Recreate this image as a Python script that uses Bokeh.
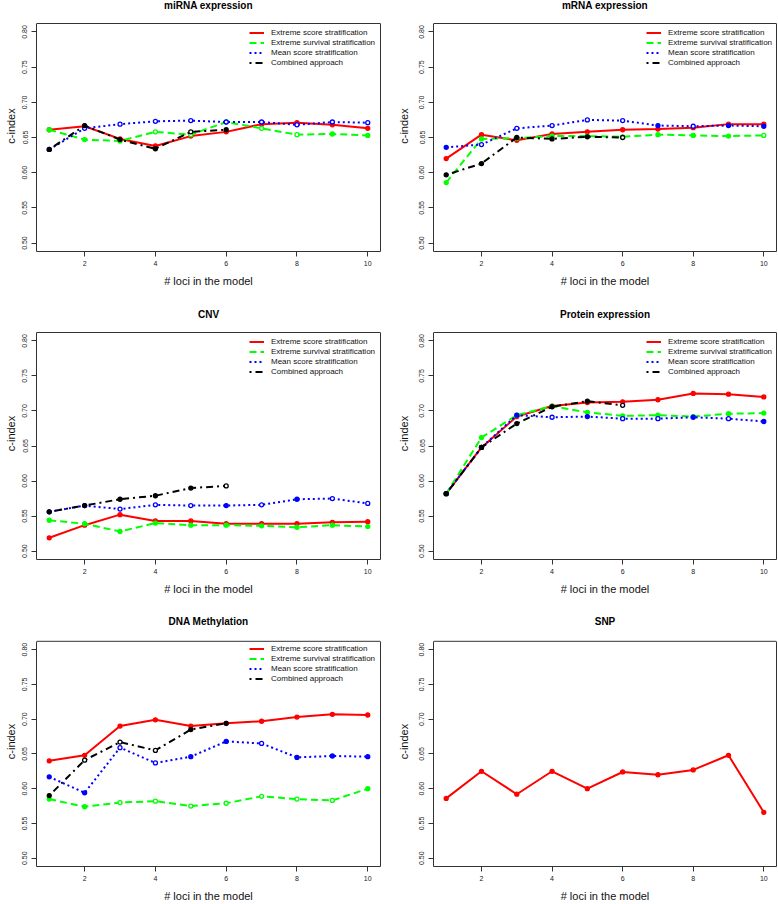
from bokeh.plotting import figure
from bokeh.layouts import gridplot
from bokeh.models import (Range1d, FixedTicker, PrintfTickFormatter, Legend, LegendItem,
                          Label, LinearAxis, Span)
from bokeh.embed import file_html
from bokeh.resources import INLINE

# ---------------- data ----------------
LOCI = [1, 2, 3, 4, 5, 6, 7, 8, 9, 10]
COMBINED_LOCI = [1, 2, 3, 4, 5, 6]
SERIES_NAMES = ["Extreme score stratification", "Extreme survival stratification",
                "Mean score stratification", "Combined approach"]
PANEL_TITLES = ["miRNA expression", "mRNA expression", "CNV",
                "Protein expression", "DNA Methylation", "SNP"]
X_TICKS = [2, 4, 6, 8, 10]
Y_TICKS = [0.50, 0.55, 0.60, 0.65, 0.70, 0.75, 0.80]
X_LABEL = "# loci in the model"
Y_LABEL = "c-index"

# miRNA expression
MIRNA_ESS = [0.661, 0.666, 0.648, 0.638, 0.652, 0.658, 0.669, 0.671, 0.668, 0.663]
MIRNA_ESV = [0.661, 0.647, 0.645, 0.658, 0.654, 0.672, 0.663, 0.654, 0.655, 0.653]
MIRNA_MSS = [0.633, 0.663, 0.669, 0.673, 0.674, 0.672, 0.672, 0.668, 0.672, 0.671]
MIRNA_CA = [0.633, 0.667, 0.647, 0.634, 0.658, 0.661]
MIRNA_ESS_OPEN = [0, 0, 0, 0, 0, 0, 0, 0, 0, 0]
MIRNA_ESV_OPEN = [0, 0, 0, 1, 1, 0, 1, 1, 0, 0]
MIRNA_MSS_OPEN = [0, 1, 1, 1, 1, 1, 1, 1, 1, 1]
MIRNA_CA_OPEN = [0, 0, 0, 0, 1, 0]

# mRNA expression
MRNA_ESS = [0.620, 0.654, 0.646, 0.655, 0.658, 0.661, 0.662, 0.664, 0.669, 0.669]
MRNA_ESV = [0.586, 0.648, 0.649, 0.652, 0.652, 0.651, 0.654, 0.653, 0.652, 0.653]
MRNA_MSS = [0.636, 0.640, 0.663, 0.667, 0.675, 0.674, 0.667, 0.666, 0.667, 0.666]
MRNA_CA = [0.597, 0.613, 0.650, 0.648, 0.651, 0.650]
MRNA_ESS_OPEN = [0, 0, 0, 0, 0, 0, 0, 0, 0, 0]
MRNA_ESV_OPEN = [0, 0, 0, 0, 0, 0, 0, 0, 0, 1]
MRNA_MSS_OPEN = [0, 1, 1, 1, 1, 1, 0, 1, 0, 0]
MRNA_CA_OPEN = [0, 0, 0, 0, 0, 1]

# CNV
CNV_ESS = [0.519, 0.537, 0.552, 0.543, 0.543, 0.539, 0.539, 0.539, 0.541, 0.542]
CNV_ESV = [0.544, 0.539, 0.528, 0.540, 0.537, 0.537, 0.536, 0.534, 0.537, 0.535]
CNV_MSS = [0.556, 0.565, 0.560, 0.566, 0.565, 0.565, 0.566, 0.574, 0.575, 0.568]
CNV_CA = [0.556, 0.565, 0.574, 0.579, 0.590, 0.593]
CNV_ESS_OPEN = [0, 0, 0, 0, 0, 0, 0, 0, 0, 0]
CNV_ESV_OPEN = [0, 0, 0, 0, 0, 0, 0, 0, 0, 0]
CNV_MSS_OPEN = [0, 0, 1, 1, 1, 0, 1, 0, 1, 1]
CNV_CA_OPEN = [0, 0, 0, 0, 0, 1]

# Protein expression
PROT_ESS = [0.582, 0.648, 0.692, 0.707, 0.712, 0.713, 0.716, 0.725, 0.724, 0.720]
PROT_ESV = [0.582, 0.662, 0.694, 0.707, 0.698, 0.693, 0.694, 0.692, 0.696, 0.697]
PROT_MSS = [0.582, 0.648, 0.694, 0.691, 0.692, 0.689, 0.689, 0.691, 0.689, 0.685]
PROT_CA = [0.582, 0.648, 0.682, 0.706, 0.714, 0.708]
PROT_ESS_OPEN = [0, 0, 0, 0, 0, 0, 0, 0, 0, 0]
PROT_ESV_OPEN = [0, 0, 0, 0, 0, 0, 0, 0, 0, 0]
PROT_MSS_OPEN = [0, 0, 0, 1, 0, 1, 1, 0, 1, 0]
PROT_CA_OPEN = [0, 0, 0, 0, 0, 1]

# DNA Methylation
METH_ESS = [0.640, 0.648, 0.690, 0.699, 0.690, 0.694, 0.697, 0.703, 0.707, 0.706]
METH_ESV = [0.585, 0.574, 0.580, 0.582, 0.575, 0.579, 0.589, 0.585, 0.583, 0.600]
METH_MSS = [0.617, 0.594, 0.659, 0.637, 0.646, 0.668, 0.665, 0.645, 0.647, 0.646]
METH_CA = [0.590, 0.641, 0.667, 0.655, 0.685, 0.694]
METH_ESS_OPEN = [0, 0, 0, 0, 0, 0, 0, 0, 0, 0]
METH_ESV_OPEN = [0, 0, 1, 1, 1, 1, 1, 1, 1, 0]
METH_MSS_OPEN = [0, 0, 1, 1, 0, 0, 1, 0, 0, 0]
METH_CA_OPEN = [0, 1, 1, 1, 0, 0]

# SNP
SNP_ESS = [0.586, 0.625, 0.592, 0.625, 0.600, 0.624, 0.620, 0.627, 0.648, 0.566]
SNP_ESS_OPEN = [0, 0, 0, 0, 0, 0, 0, 0, 0, 0]

PANELS = [
    [(LOCI, MIRNA_ESS, MIRNA_ESS_OPEN), (LOCI, MIRNA_ESV, MIRNA_ESV_OPEN),
     (LOCI, MIRNA_MSS, MIRNA_MSS_OPEN), (COMBINED_LOCI, MIRNA_CA, MIRNA_CA_OPEN)],
    [(LOCI, MRNA_ESS, MRNA_ESS_OPEN), (LOCI, MRNA_ESV, MRNA_ESV_OPEN),
     (LOCI, MRNA_MSS, MRNA_MSS_OPEN), (COMBINED_LOCI, MRNA_CA, MRNA_CA_OPEN)],
    [(LOCI, CNV_ESS, CNV_ESS_OPEN), (LOCI, CNV_ESV, CNV_ESV_OPEN),
     (LOCI, CNV_MSS, CNV_MSS_OPEN), (COMBINED_LOCI, CNV_CA, CNV_CA_OPEN)],
    [(LOCI, PROT_ESS, PROT_ESS_OPEN), (LOCI, PROT_ESV, PROT_ESV_OPEN),
     (LOCI, PROT_MSS, PROT_MSS_OPEN), (COMBINED_LOCI, PROT_CA, PROT_CA_OPEN)],
    [(LOCI, METH_ESS, METH_ESS_OPEN), (LOCI, METH_ESV, METH_ESV_OPEN),
     (LOCI, METH_MSS, METH_MSS_OPEN), (COMBINED_LOCI, METH_CA, METH_CA_OPEN)],
    [(LOCI, SNP_ESS, SNP_ESS_OPEN)],
]

# ---------------- style / layout ----------------
COLORS = ["#FF0000", "#00FF00", "#0000FF", "#000000"]
DASHES = ["solid", "7 4", "2 3", "2 4 7 4"]
FONT = "Liberation Sans"
BOX_COLOR = "#333333"
X_LO, X_HI = 0.64, 10.36          # R's 4% extension of 1..10
Y_LO, Y_HI = 0.488, 0.812         # R's 4% extension of 0.50..0.80
HEIGHTS = [307, 309, 288]
BOX_TOPS = [23, 25, 25]           # px from figure top to the plot box
TITLE_YS = [5, 7, 7]              # px from figure top to title centre
BOTTOMS = [56, 57, 36]
WIDTHS = [389, 389]
LEFTS = [36, 44]
RIGHTS = [9, 2]
Y_LABEL_STANDOFF = [3, 7]
LEGEND_X = 213                    # px from box left to legend left edge
LEGEND_PAD = 3


def make_panel(idx):
    row, col = divmod(idx, 2)
    frame_w = WIDTHS[col] - LEFTS[col] - RIGHTS[col]
    frame_h = HEIGHTS[row] - BOTTOMS[row]
    box_h = frame_h - BOX_TOPS[row]
    y_top = Y_HI + BOX_TOPS[row] * (Y_HI - Y_LO) / box_h
    p = figure(width=WIDTHS[col], height=HEIGHTS[row],
               x_range=Range1d(X_LO, X_HI), y_range=Range1d(Y_LO, y_top),
               output_backend="svg", toolbar_location=None,
               min_border_left=LEFTS[col], min_border_right=RIGHTS[col],
               min_border_top=0, min_border_bottom=BOTTOMS[row])
    p.xgrid.visible = False
    p.ygrid.visible = False
    p.outline_line_color = None
    p.background_fill_color = "white"
    p.border_fill_color = "white"

    # plot box: left/bottom axis lines, right axis line, top span
    p.add_layout(Span(location=Y_HI, dimension="width", line_color=BOX_COLOR, line_width=1))
    right_ax = LinearAxis(bounds=(Y_LO, Y_HI), ticker=FixedTicker(ticks=[]),
                          axis_line_color=BOX_COLOR, major_tick_line_color=None,
                          minor_tick_line_color=None, major_label_standoff=0,
                          major_tick_out=0, major_tick_in=0)
    p.add_layout(right_ax, "right")

    title = Label(x=frame_w / 2, y=frame_h - TITLE_YS[row], x_units="screen", y_units="screen",
                  text=PANEL_TITLES[idx], text_align="center", text_baseline="middle",
                  text_font=FONT, text_font_size="10px", text_font_style="bold",
                  text_color="#000000")
    p.add_layout(title)

    for ax in (p.xaxis[0], p.yaxis[0]):
        ax.axis_line_color = BOX_COLOR
        ax.major_tick_line_color = BOX_COLOR
        ax.major_tick_out = 5
        ax.major_tick_in = 0
        ax.minor_tick_line_color = None
        ax.major_label_text_font = FONT
        ax.major_label_text_font_size = "7px"
        ax.major_label_text_color = "#222222"
        ax.axis_label_text_font = FONT
        ax.axis_label_text_font_size = "11px"
        ax.axis_label_text_font_style = "normal"
        ax.axis_label_text_color = "#111111"
    p.yaxis[0].bounds = (Y_LO, Y_HI)
    p.xaxis.ticker = FixedTicker(ticks=X_TICKS)
    p.yaxis[0].ticker = FixedTicker(ticks=Y_TICKS)
    p.yaxis[0].formatter = PrintfTickFormatter(format="%.2f")
    p.yaxis[0].major_label_orientation = "vertical"
    p.xaxis.major_label_standoff = 4
    p.yaxis[0].major_label_standoff = 4
    p.xaxis.axis_label_standoff = 6
    p.yaxis[0].axis_label_standoff = Y_LABEL_STANDOFF[col]
    p.xaxis.axis_label = X_LABEL
    p.yaxis[0].axis_label = Y_LABEL

    items = []
    for k, (xs, ys, opens) in enumerate(PANELS[idx]):
        color = COLORS[k]
        r = p.line(xs, ys, line_color=color, line_width=2, line_dash=DASHES[k])
        fx = [x for x, o in zip(xs, opens) if not o]
        fy = [y for y, o in zip(ys, opens) if not o]
        ox = [x for x, o in zip(xs, opens) if o]
        oy = [y for y, o in zip(ys, opens) if o]
        p.scatter(fx, fy, marker="circle", size=4, line_color=color, fill_color=color, line_width=1.3)
        p.scatter(ox, oy, marker="circle", size=4, line_color=color, fill_color="white", line_width=1.3)
        items.append(LegendItem(label=SERIES_NAMES[k], renderers=[r]))

    if len(items) > 1:
        # bottom-left corner of the legend, in px from the frame's bottom-left
        legend_bottom = box_h - 41 - LEGEND_PAD
        leg = Legend(items=items, location=(LEGEND_X, legend_bottom))
        leg.border_line_color = None
        leg.background_fill_alpha = 0
        leg.margin = 0
        leg.padding = LEGEND_PAD
        leg.spacing = 1
        leg.glyph_width = 15
        leg.glyph_height = 9
        leg.label_height = 9
        leg.label_standoff = 7
        leg.label_text_font = FONT
        leg.label_text_font_size = "8px"
        leg.label_text_color = "#111111"
        p.add_layout(leg)
    return p


figs = [make_panel(i) for i in range(6)]
grid = gridplot([[figs[0], figs[1]], [figs[2], figs[3]], [figs[4], figs[5]]],
                toolbar_location=None)

open("out.html", "w").write(file_html(grid, INLINE))
